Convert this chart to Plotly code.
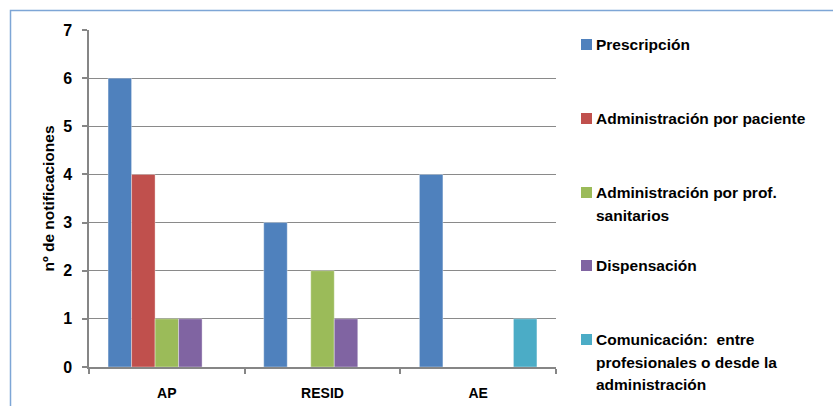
import plotly.graph_objects as go

# Notification counts by care level and error stage
categories = ["AP", "RESID", "AE"]
series_names = [
    "Prescripción",
    "Administración por paciente",
    "Administración por prof.<br>sanitarios",
    "Dispensación",
    "Comunicación:  entre<br>profesionales o desde la<br>administración",
]
prescripcion = [6, 3, 4]
admin_paciente = [4, None, None]
admin_prof = [1, 2, None]
dispensacion = [1, 1, None]
comunicacion = [None, None, 1]
series_values = [prescripcion, admin_paciente, admin_prof, dispensacion, comunicacion]
colors = ["#4F81BD", "#C0504D", "#9BBB59", "#8064A2", "#4BACC6"]
y_ticks = [0, 1, 2, 3, 4, 5, 6, 7]
y_title = "nº de notificaciones"

FONT = "Liberation Sans"
W, H = 833, 406
ML, MR, MT, MB = 89, 277, 30, 39
PW, PH = W - ML - MR, H - MT - MB

fig = go.Figure()
for name, vals, col in zip(series_names, series_values, colors):
    fig.add_trace(go.Bar(
        x=categories, y=vals, name=name.replace("<br>", " "),
        marker=dict(color=col, line=dict(color="rgba(255,255,255,0.6)", width=0.6)),
        showlegend=False,
    ))

# Legend drawn as swatches + text lines, evenly spaced down the right side
def px_to_paper_x(px):
    return (px - ML) / PW

def px_to_paper_y(py):
    return 1 - (py - MT) / PH

shapes = []
annotations = []
item_tops = [39, 113, 187, 260, 334]
line_h = 22.7
for name, col, top in zip(series_names, colors, item_tops):
    shapes.append(dict(
        type="rect", xref="paper", yref="paper",
        x0=px_to_paper_x(581), x1=px_to_paper_x(592),
        y0=px_to_paper_y(top + 11), y1=px_to_paper_y(top),
        fillcolor=col, line=dict(width=0),
    ))
    for i, line in enumerate(name.split("<br>")):
        cy = top + 5.5 + i * line_h
        annotations.append(dict(
            text="<b>%s</b>" % line, xref="paper", yref="paper",
            x=px_to_paper_x(594), y=px_to_paper_y(cy),
            xanchor="left", yanchor="middle", showarrow=False,
            font=dict(family=FONT, size=15.5, color="#000000"),
        ))

# Chart frame
shapes.append(dict(
    type="rect", xref="paper", yref="paper",
    x0=px_to_paper_x(10.5), x1=px_to_paper_x(900),
    y0=px_to_paper_y(450), y1=px_to_paper_y(10.5),
    line=dict(color="#7EA6D6", width=1.5), fillcolor="rgba(0,0,0,0)",
    layer="below",
))

fig.update_layout(
    width=W, height=H,
    margin=dict(l=ML, r=MR, t=MT, b=MB),
    paper_bgcolor="white", plot_bgcolor="white",
    barmode="group", bargap=0.245, bargroupgap=0,
    font=dict(family=FONT, size=14, color="#000000"),
    shapes=shapes, annotations=annotations,
    xaxis=dict(
        type="category", showline=True, linecolor="#868686", linewidth=1.5,
        ticks="outside", tickson="boundaries", ticklen=5, tickcolor="#868686",
        tickwidth=1.5, showgrid=False, ticklabelstandoff=12, automargin=False,
        tickfont=dict(family=FONT, size=14, color="#000000", weight="bold"),
    ),
    yaxis=dict(
        range=[0, 7], tickvals=y_ticks, showline=True, linecolor="#868686",
        linewidth=1.5, ticks="outside", ticklen=5, tickcolor="#868686",
        tickwidth=1.5, gridcolor="#8A8A8A", gridwidth=1.2, zeroline=False,
        ticklabelstandoff=7, automargin=False,
        tickfont=dict(family=FONT, size=16, color="#000000", weight="bold"),
        title=dict(text="<b>%s</b>" % y_title, font=dict(family=FONT, size=15.5), standoff=5),
    ),
)

fig.write_html("out.html")
